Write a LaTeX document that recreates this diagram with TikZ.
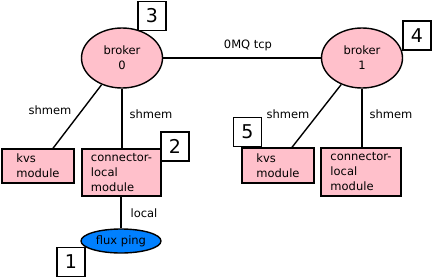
\documentclass[tikz,border=0pt]{standalone}
\usepackage{fontspec}
\setmainfont{DejaVu Sans}
\usetikzlibrary{shapes.geometric}

\definecolor{brokerpink}{RGB}{255,192,203}
\definecolor{pingblue}{RGB}{0,128,255}

\begin{document}
\begin{tikzpicture}[x=1pt, y=-1pt, line width=1.4pt,
    font=\fontsize{11.5}{15}\selectfont,
    broker/.style={ellipse, draw, fill=brokerpink, inner sep=0pt,
      minimum width=81pt, minimum height=60pt, align=center},
    module/.style={rectangle, draw, fill=brokerpink, inner sep=0pt,
      align=left},
    tag/.style={rectangle, draw, fill=white, inner sep=0pt,
      minimum width=28pt, minimum height=29pt,
      font=\fontsize{19}{22}\selectfont}]
  \useasboundingbox (0, 0) rectangle (433, 278);
  % brokers
  \node[broker] (broker0) at (122, 58) {broker\\0};
  \node[broker] (broker1) at (362, 58) {broker\\1};
  \draw (broker0) -- (broker1);
  \node at (248, 45) {0MQ tcp};
  % modules of broker 0
  \node[module, minimum width=72pt, minimum height=34pt] (kvs0) at (38, 166)
    {kvs\\module};
  \node[module, minimum width=79pt, minimum height=47pt] (conn0) at (121.5, 172.5)
    {connector-\\local\\module};
  \draw (broker0) -- ([xshift=15pt]kvs0.north);
  \draw (broker0.south) -- (broker0.south |- conn0.north);
  \node at (50, 110) {shmem};
  \node at (151, 114) {shmem};
  % modules of broker 1
  \node[module, minimum width=72pt, minimum height=35pt] (kvs1) at (278, 165.5)
    {kvs\\module};
  \node[module, minimum width=80pt, minimum height=48pt] (conn1) at (361, 172)
    {connector-\\local\\module};
  \draw (broker1) -- ([xshift=14pt]kvs1.north);
  \draw (broker1.south) -- (broker1.south |- conn1.north);
  \node at (288, 114) {shmem};
  \node at (391, 114) {shmem};
  % client
  \node[ellipse, draw, fill=pingblue, inner sep=0pt,
    minimum width=80pt, minimum height=24pt] (ping) at (121, 241) {flux ping};
  \draw (conn0.south -| ping.north) -- (ping.north);
  \node at (144, 213) {local};
  % numbered tags
  \node[tag] (tag1) at (71, 262) {1};
  \node[tag] (tag2) at (175, 146.5) {2};
  \node[tag] (tag3) at (152, 16) {3};
  \node[tag] (tag4) at (417, 35.5) {4};
  \node[tag] (tag5) at (247.5, 132) {5};
\end{tikzpicture}
\end{document}
